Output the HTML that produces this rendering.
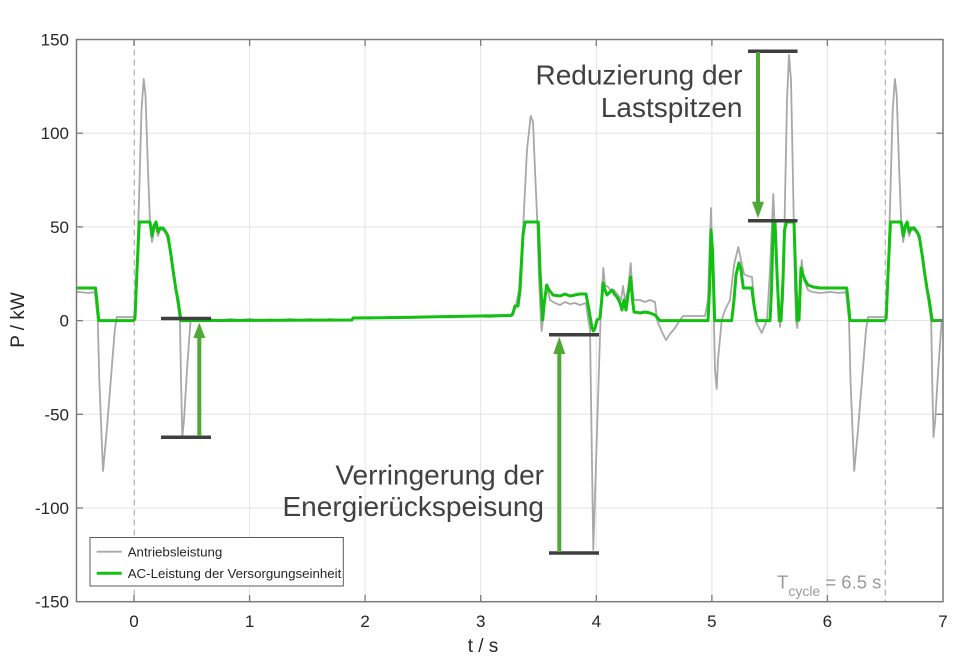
<!DOCTYPE html>
<html>
<head>
<meta charset="utf-8">
<style>
  html,body{margin:0;padding:0;background:#ffffff;}
  svg{display:block;}
  text{font-family:"Liberation Sans",Arial,sans-serif;}
</style>
</head>
<body>
<svg width="960" height="668" viewBox="0 0 960 668" xmlns="http://www.w3.org/2000/svg">
  <defs>
    <clipPath id="plot">
      <rect x="76.5" y="39.5" width="866.5" height="562.2"/>
    </clipPath>
    <g id="grayc">
      <polyline fill="none" stroke="#a8a8a8" stroke-width="1.8" stroke-linejoin="round" points="
        134,317 136,300 139,200 141.5,110 143.7,79 145.5,95 148,170 150,222 152,242 154,230 156,226 158,236 160,230 163,230 166,234 168,240 171,258 174,278 177,300 179,314 180,322 181,380 182.3,437 184,420 187,370 190.5,321
        200,320 210,319 220,320.5 230,319 240,320 250,319 260,320.5 270,319.5 280,320 290,319 300,320 310,319 320,320.5 330,319 340,320 352,319.5 353,318
        370,318.5 390,317 410,318 430,316.5 450,317.5 470,316 490,317 513,315.5
        516,305 519,290 523,230 527,150 530.7,116 533,122 535,170 537.3,222 539,280 541,322 541.7,331 543,318 545,296 547,288 550,300 555,303 560,305 565,302 570,304 575,303 580,305 586,303 588,318 590,330 593.3,550 600.5,320 601.5,300 603.3,268 605,285 608,287 612,292 614,290 618,295 621,300 623,286 625,300 628,290 630.7,263 632.5,290 634,300 640,300 645,302 650,300 655,302 657,320 662,332 666,340 670,334 675,328 680,320 683,316 705,316 708,300 711,208 713,280 715,370 716.7,389 718,360 721.7,320 725,310 730,300 734,265 738.3,247 741,260 744,274 748,276 752,277 754,300 756,322 761.7,333 767,320 770,270 773.3,194 776,260 780,327 783,300 785,200 787,100 789,55 791,80 793,180 795,290 796,320 797.3,328 799,300 801.7,260 804,280 808,290 812,292 820,293 830,292 840,293 846,292 849,320 850.5,380 854.2,471 858,430 862,380 866,330 868,317 885.2,317"/>
    </g>
    <g id="greenc">
      <polyline fill="none" stroke="#12c012" stroke-width="3" stroke-linejoin="round" points="
        134,320.6 135,318 137,270 139.3,222 150,222 152,236 154,226 156,222 158,232 160,228 163,228 166,232 168,236 171,255 173,270 176,290 178,300 180,314 181,320.6
        352,320 353,318 400,317.5 450,316.5 511,315.5 513,313 515,306 518,306 520,290 523,235 525,222 538.3,222 540,270 542.7,320 544,305 546.7,285 549,290 553,295 560,296 565,294 570,296 575,295 580,294 586,294 589,310 592,328 593.3,331 595,328 597,320 600,318 601.7,300 603,283 605,290 607,295 610,292 612,290 615,295 617,297 620,303 622,310 624,300 626,310 628,295 630.7,277 632.5,300 634,312 640,313 645,312 650,313 655,315 660,320.6 708,320.6 709.5,290 711,230 712.5,250 714.7,320.6 731.7,320.6 734,300 736,275 739,263 741,270 743.3,288 751.7,288 754,305 756.7,320.6 770,320.6 771.5,290 773.3,222 775,222 777.3,280 779.3,320.6 781,320.6 783,280 784.5,230 786.7,222 794,222 795.5,270 797.3,320.6 799,320 801,268 803,275 805,280 808,285 813.3,287 820,288 830,288 840,288 846.7,288 848,300 850,320.6 885.2,320.6"/>
    </g>
  </defs>

  <!-- grid -->
  <g stroke="#e3e3e3" stroke-width="1">
    <line x1="249.6" y1="39.5" x2="249.6" y2="601.7"/>
    <line x1="365.1" y1="39.5" x2="365.1" y2="601.7"/>
    <line x1="480.7" y1="39.5" x2="480.7" y2="601.7"/>
    <line x1="596.3" y1="39.5" x2="596.3" y2="601.7"/>
    <line x1="711.9" y1="39.5" x2="711.9" y2="601.7"/>
    <line x1="827.4" y1="39.5" x2="827.4" y2="601.7"/>
    <line x1="76.5" y1="133.2" x2="943" y2="133.2"/>
    <line x1="76.5" y1="226.9" x2="943" y2="226.9"/>
    <line x1="76.5" y1="320.6" x2="943" y2="320.6"/>
    <line x1="76.5" y1="414.3" x2="943" y2="414.3"/>
    <line x1="76.5" y1="508" x2="943" y2="508"/>
  </g>

  <!-- dashed cycle markers -->
  <g stroke="#b0b0b0" stroke-width="1.2" stroke-dasharray="6,4">
    <line x1="134.3" y1="39.5" x2="134.3" y2="601.7"/>
    <line x1="885.3" y1="39.5" x2="885.3" y2="601.7"/>
  </g>

  <!-- data -->
  <g clip-path="url(#plot)">
    <use href="#grayc" transform="translate(-751.2,0)"/>
    <use href="#grayc"/>
    <use href="#grayc" transform="translate(751.2,0)"/>
    <use href="#greenc" transform="translate(-751.2,0)"/>
    <use href="#greenc"/>
    <use href="#greenc" transform="translate(751.2,0)"/>
  </g>

  <!-- annotation bars -->
  <g stroke="#3f3f3f" stroke-width="3.5">
    <line x1="161" y1="318.5" x2="211" y2="318.5"/>
    <line x1="161" y1="437.3" x2="211" y2="437.3"/>
    <line x1="549" y1="334.7" x2="599" y2="334.7"/>
    <line x1="549" y1="553" x2="599" y2="553"/>
    <line x1="748" y1="51.3" x2="797.5" y2="51.3"/>
    <line x1="748" y1="220.7" x2="797.5" y2="220.7"/>
  </g>

  <!-- arrows -->
  <g fill="#4fa935" stroke="none">
    <rect x="197.3" y="336" width="4" height="100"/>
    <polygon points="199.3,322.7 193.3,338 205.3,338"/>
    <rect x="557.3" y="352" width="4" height="200"/>
    <polygon points="559.3,336.7 553.3,354 565.3,354"/>
    <rect x="756" y="52" width="4" height="151"/>
    <polygon points="758,218.3 752,201.7 764,201.7"/>
  </g>

  <!-- axes box -->
  <rect x="76.5" y="39.5" width="866.5" height="562.2" fill="none" stroke="#7a7a7a" stroke-width="1.5"/>

  <!-- ticks -->
  <g stroke="#7a7a7a" stroke-width="1.3">
    <line x1="134" y1="601.7" x2="134" y2="595"/>
    <line x1="249.6" y1="601.7" x2="249.6" y2="595"/>
    <line x1="365.1" y1="601.7" x2="365.1" y2="595"/>
    <line x1="480.7" y1="601.7" x2="480.7" y2="595"/>
    <line x1="596.3" y1="601.7" x2="596.3" y2="595"/>
    <line x1="711.9" y1="601.7" x2="711.9" y2="595"/>
    <line x1="827.4" y1="601.7" x2="827.4" y2="595"/>
    <line x1="134" y1="39.5" x2="134" y2="46"/>
    <line x1="249.6" y1="39.5" x2="249.6" y2="46"/>
    <line x1="365.1" y1="39.5" x2="365.1" y2="46"/>
    <line x1="480.7" y1="39.5" x2="480.7" y2="46"/>
    <line x1="596.3" y1="39.5" x2="596.3" y2="46"/>
    <line x1="711.9" y1="39.5" x2="711.9" y2="46"/>
    <line x1="827.4" y1="39.5" x2="827.4" y2="46"/>
    <line x1="76.5" y1="133.2" x2="83" y2="133.2"/>
    <line x1="76.5" y1="226.9" x2="83" y2="226.9"/>
    <line x1="76.5" y1="320.6" x2="83" y2="320.6"/>
    <line x1="76.5" y1="414.3" x2="83" y2="414.3"/>
    <line x1="76.5" y1="508" x2="83" y2="508"/>
    <line x1="943" y1="133.2" x2="936.5" y2="133.2"/>
    <line x1="943" y1="226.9" x2="936.5" y2="226.9"/>
    <line x1="943" y1="320.6" x2="936.5" y2="320.6"/>
    <line x1="943" y1="414.3" x2="936.5" y2="414.3"/>
    <line x1="943" y1="508" x2="936.5" y2="508"/>
  </g>

  <!-- y tick labels -->
  <g font-size="17" fill="#262626" text-anchor="end">
    <text x="69" y="45.5">150</text>
    <text x="69" y="139.2">100</text>
    <text x="69" y="232.9">50</text>
    <text x="69" y="326.6">0</text>
    <text x="69" y="420.3">-50</text>
    <text x="69" y="514">-100</text>
    <text x="69" y="607.7">-150</text>
  </g>
  <!-- x tick labels -->
  <g font-size="17" fill="#262626" text-anchor="middle">
    <text x="134" y="627">0</text>
    <text x="249.6" y="627">1</text>
    <text x="365.1" y="627">2</text>
    <text x="480.7" y="627">3</text>
    <text x="596.3" y="627">4</text>
    <text x="711.9" y="627">5</text>
    <text x="827.4" y="627">6</text>
    <text x="943" y="627">7</text>
  </g>

  <!-- axis labels -->
  <text x="483" y="652" font-size="19" fill="#262626" text-anchor="middle">t / s</text>
  <text transform="translate(24,320) rotate(-90)" font-size="19" fill="#262626" text-anchor="middle">P / kW</text>

  <!-- annotations -->
  <g font-size="28" fill="#404040" text-anchor="end">
    <text x="742.5" y="84.5">Reduzierung der</text>
    <text x="742.5" y="117">Lastspitzen</text>
    <text x="544" y="484.5">Verringerung der</text>
    <text x="544" y="516">Energierückspeisung</text>
  </g>

  <!-- T_cycle -->
  <text x="777" y="588.5" font-size="18.5" fill="#9a9a9a">T<tspan font-size="14" dy="7.5">cycle</tspan><tspan dy="-7.5"> = 6.5 s</tspan></text>

  <!-- legend -->
  <rect x="90" y="537.5" width="253.3" height="48.5" fill="#ffffff" stroke="#5a5a5a" stroke-width="1"/>
  <line x1="96.7" y1="551.7" x2="121.7" y2="551.7" stroke="#a8a8a8" stroke-width="1.8"/>
  <line x1="96.7" y1="573.3" x2="121.7" y2="573.3" stroke="#12c012" stroke-width="3"/>
  <text x="127.7" y="556.3" font-size="13.3" fill="#262626">Antriebsleistung</text>
  <text x="127.7" y="578" font-size="13.3" fill="#262626">AC-Leistung der Versorgungseinheit</text>
</svg>
</body>
</html>
